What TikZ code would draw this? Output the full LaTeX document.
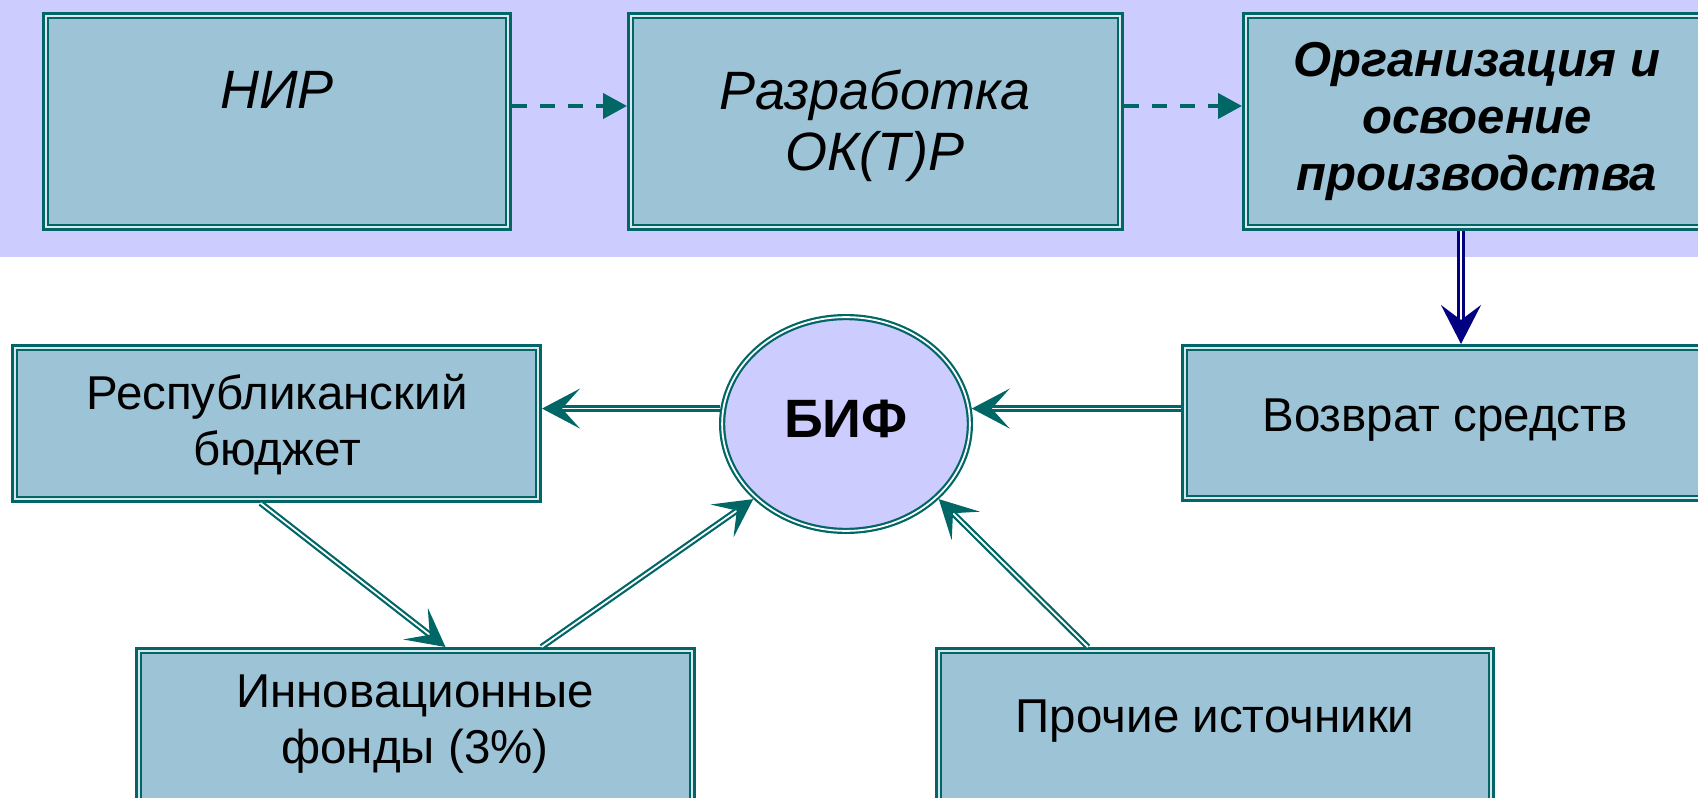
\documentclass[tikz,border=0pt]{standalone}
\usepackage{fontspec}
\setmainfont{Liberation Sans}
\usetikzlibrary{arrows.meta,shapes.geometric}
\definecolor{bandc}{HTML}{CCCCFF}
\definecolor{boxfill}{HTML}{9DC3D7}
\definecolor{tealc}{HTML}{006666}
\definecolor{gapc}{HTML}{DCE6EE}
\definecolor{navyc}{HTML}{000080}
\begin{document}
\begin{tikzpicture}[x=1pt,y=-1pt,
  boxst/.style={rectangle, draw=tealc, line width=2.6pt, double=gapc, double distance=2pt,
    fill=boxfill, inner sep=0pt, outer sep=3.6pt},
  ellst/.style={ellipse, draw=tealc, line width=2.2pt, double=white, double distance=1.8pt,
    fill=bandc, inner sep=0pt, outer sep=3.1pt},
  topit/.style={anchor=base, align=center, font=\fontsize{54}{61}\selectfont\itshape},
  topbf/.style={anchor=base, align=center, font=\fontsize{49}{57}\selectfont\bfseries\itshape},
  lowtxt/.style={anchor=base, align=center, font=\fontsize{47.5}{56}\selectfont},
  dasharrow/.style={draw=tealc, line width=4pt, dash pattern=on 15pt off 13pt,
    -{Triangle[length=24pt,width=25pt]}},
  tarrow/.style={draw=tealc, line width=2.2pt, double=white, double distance=1.8pt,
    -{Stealth[length=38pt,width=40pt,inset=18pt]}},
  narrow/.style={draw=navyc, line width=2.6pt, double=white, double distance=2pt,
    -{Stealth[length=39pt,width=40pt,inset=15pt]}}]
\useasboundingbox (0,0) rectangle (1698,798);
\clip (0,0) rectangle (1698,798);
\fill[bandc] (0,0) rectangle (1698,257);
% boxes
\node[boxst, minimum width=462.8pt, minimum height=211.8pt] (nir) at (277,121.5) {};
\node[boxst, minimum width=489.8pt, minimum height=211.8pt] (razr) at (875.5,121.5) {};
\node[boxst, minimum width=462.8pt, minimum height=211.8pt] (org) at (1477,121.5) {};
\node[boxst, minimum width=523.8pt, minimum height=151.8pt] (resp) at (276.5,423.5) {};
\node[boxst, minimum width=521.8pt, minimum height=150.8pt] (vozv) at (1445.5,423) {};
\node[boxst, minimum width=553.8pt, minimum height=155.8pt] (innov) at (415.5,728.5) {};
\node[boxst, minimum width=552.8pt, minimum height=155.8pt] (proch) at (1215,728.5) {};
\node[ellst, minimum width=247.8pt, minimum height=213.8pt] (bif) at (846,424) {};
% texts (base = baseline of the last line)
\node[topit] (tnir) at (277,108) {НИР};
\node[topit] (trazr) at (875,170) {Разработка\\ОК(Т)Р};
\node[topbf] (torg) at (1477,190) {Организация и\\освоение\\производства};
\node[lowtxt] (tresp) at (277,465) {Республиканский\\бюджет};
\node[lowtxt] (tvozv) at (1445,431) {Возврат средств};
\node[lowtxt] (tinnov) at (415,763) {Инновационные\\фонды (3\%)};
\node[lowtxt] (tproch) at (1215,732) {Прочие источники};
\node[anchor=base, font=\fontsize{54}{61}\selectfont\bfseries] (tbif) at (846,437) {БИФ};
% connectors
\draw[dasharrow] ([yshift=15.5pt]nir.east) -- ([yshift=15.5pt]razr.west);
\draw[dasharrow] ([yshift=15.5pt]razr.east) -- ([yshift=15.5pt]org.west);
\draw[narrow] ([xshift=-16pt]org.south) -- ([xshift=15.5pt]vozv.north);
\draw[tarrow] (bif.173) -- (bif.173 -| resp.east);
\draw[tarrow] (vozv.west |- bif.7) -- (bif.7);
\draw[tarrow] ([xshift=-16pt]resp.south) -- ([xshift=30pt]innov.north);
\draw[tarrow] ([xshift=126pt]innov.north) -- (bif.219);
\draw[tarrow] ([xshift=-127pt]proch.north) -- (bif.321);
\end{tikzpicture}
\end{document}
